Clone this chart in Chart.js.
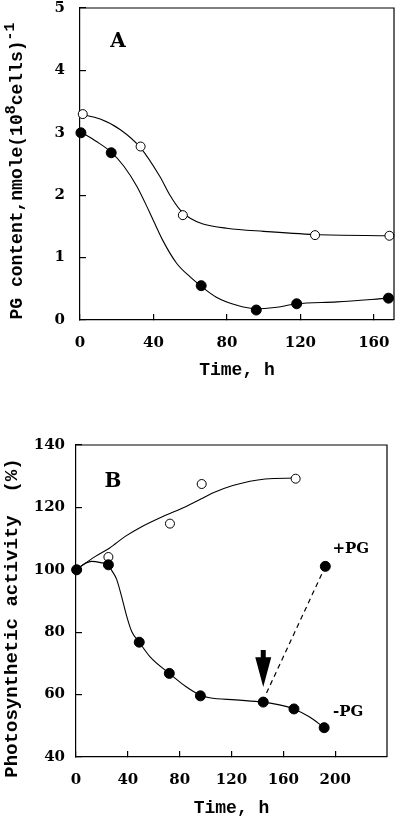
<!DOCTYPE html>
<html>
<head>
<meta charset="utf-8">
<script src="https://cdn.jsdelivr.net/npm/chart.js@4.4.1/dist/chart.umd.min.js"></script>
<style>
  body { margin: 0; background: #fff; }
  canvas { display: block; }
</style>
</head>
<body>
<canvas id="graphA" width="400" height="410"></canvas>
<canvas id="graphB" width="400" height="410"></canvas>
<script>
// ---- Panel A: PG content ----
var timeOpenA = [1.5, 33, 56, 128, 168.5];
var pgOpenA = [3.30, 2.78, 1.68, 1.36, 1.35];
var timeFilledA = [0.5, 17, 66, 96, 118, 168];
var pgFilledA = [3.00, 2.68, 0.55, 0.16, 0.26, 0.35];
// fitted curves
var fitTimeOpenA = [0, 11, 22, 33, 43.5, 49, 54.4, 60, 67, 80, 100, 128, 169];
var fitOpenA = [3.30, 3.22, 3.05, 2.76, 2.30, 2.00, 1.77, 1.63, 1.54, 1.47, 1.42, 1.37, 1.35];
var fitTimeFilledA = [0, 9, 17, 24, 31, 38, 45, 52.6, 60, 66, 74, 85, 96, 106, 118, 140, 168];
var fitFilledA = [3.02, 2.86, 2.69, 2.46, 2.14, 1.72, 1.28, 0.91, 0.69, 0.54, 0.37, 0.24, 0.18, 0.20, 0.26, 0.29, 0.35];
var xTicksA = [0, 40, 80, 120, 160];
var yTicksA = [0, 1, 2, 3, 4, 5];

// ---- Panel B: photosynthetic activity ----
var timeOpenB = [0.5, 25, 72.5, 97, 169.5];
var actOpenB = [100, 104.1, 114.8, 127.5, 129.2];
var timeFilledB = [0.5, 25, 48.8, 72, 96, 144.5, 168.2, 191.5];
var actFilledB = [100, 101.6, 76.8, 66.8, 59.6, 57.6, 55.4, 49.4];
var timePlusPG = [147, 192.4];
var actPlusPG = [60.5, 101.1];
var fitTimeOpenB = [0, 15, 26, 38, 51, 67, 85, 98, 105, 121, 146, 169];
var fitOpenB = [100, 104.3, 107, 110.7, 113.9, 117.1, 120.3, 123, 124.5, 127, 129.1, 129.4];
var fitTimeFilledB = [0, 6, 12, 19, 24.5, 28, 31.3, 35.2, 39, 43, 48.8, 57, 72, 85, 96, 103, 123, 144.5, 157, 168, 180, 191.5];
var fitFilledB = [100, 101.8, 102.7, 102.3, 101.6, 99.5, 97.0, 91.4, 85.3, 80.2, 76.8, 72.2, 66.8, 62.5, 59.8, 59, 58.3, 57.6, 56.7, 55.4, 52.9, 49.4];
var xTicksB = [0, 40, 80, 120, 160, 200];
var yTicksB = [40, 60, 80, 100, 120, 140];
var arrowTime = 144.5, arrowFrom = 74.3, arrowHead = 72, arrowTo = 62.4;

var tickFont = { family: '"DejaVu Serif"', size: 15, weight: 'bold' };
var titleFont = { family: '"Liberation Mono"', size: 18, weight: 'bold' };

function pts(xs, ys) {
    return xs.map(function(x, i) { return { x: x, y: ys[i] }; });
}

function markers(xs, ys, filled) {
    return {
        data: pts(xs, ys),
        showLine: false,
        pointRadius: filled ? 5 : 4.5,
        pointBorderWidth: 1,
        pointBorderColor: '#000',
        pointBackgroundColor: filled ? '#000' : '#fff',
        clip: false
    };
}

function curve(xs, ys) {
    return {
        data: pts(xs, ys),
        showLine: true,
        borderColor: '#000',
        borderWidth: 1.1,
        pointRadius: 0,
        cubicInterpolationMode: 'monotone',
        clip: false
    };
}

function axis(min, max, tickList, width, height, pad, title, titlePad) {
    return {
        type: 'linear',
        min: min,
        max: max,
        afterBuildTicks: function(scale) {
            scale.ticks = tickList.map(function(v) { return { value: v }; });
        },
        afterFit: function(scale) {
            if (width) scale.width = width;
            if (height) scale.height = height;
            // keep the plot box where the layout padding puts it
            scale.paddingTop = 0;
            scale.paddingBottom = 0;
            scale.paddingLeft = 0;
            scale.paddingRight = 0;
        },
        grid: { drawOnChartArea: false, tickLength: -6, color: '#000', lineWidth: 1.2 },
        border: { color: '#000', width: 1.2 },
        ticks: { color: '#000', font: tickFont, padding: pad, maxRotation: 0 },
        title: title ? { display: true, text: title, color: '#000', font: titleFont, padding: { top: 0, bottom: titlePad } } : { display: false }
    };
}

function drawVertical(ctx, parts, x, y) {
    ctx.save();
    ctx.translate(x, y);
    ctx.rotate(-Math.PI / 2);
    ctx.textAlign = 'left';
    ctx.textBaseline = 'alphabetic';
    ctx.fillStyle = '#000';
    var total = 0;
    parts.forEach(function(p) {
        ctx.font = 'bold ' + p.size + 'px "Liberation Mono"';
        total += ctx.measureText(p.text).width;
    });
    var pos = -total / 2;
    parts.forEach(function(p) {
        ctx.font = 'bold ' + p.size + 'px "Liberation Mono"';
        ctx.fillText(p.text, pos, -(p.rise || 0));
        pos += ctx.measureText(p.text).width;
    });
    ctx.restore();
}

// box, panel letter, y title and notes
var decor = {
    id: 'decor',
    afterDraw: function(chart, args, opts) {
        var ctx = chart.ctx, a = chart.chartArea;
        var xs = chart.scales.x, ys = chart.scales.y;
        ctx.save();
        ctx.strokeStyle = '#000';
        ctx.lineWidth = 1.2;
        ctx.beginPath();
        ctx.moveTo(a.left, a.top);
        ctx.lineTo(a.right, a.top);
        ctx.lineTo(a.right, a.bottom);
        ctx.stroke();

        ctx.fillStyle = '#000';
        ctx.font = 'bold 20px "DejaVu Serif"';
        ctx.textAlign = 'center';
        ctx.textBaseline = 'middle';
        ctx.fillText(opts.letter, opts.letterX, opts.letterY);

        drawVertical(ctx, opts.yTitle, opts.yTitleX, opts.yTitleY);

        if (opts.notes) {
            ctx.font = 'bold 15px "DejaVu Serif"';
            opts.notes.forEach(function(n) {
                ctx.fillText(n.text, xs.getPixelForValue(n.x), ys.getPixelForValue(n.y));
            });
        }
        if (opts.arrow) {
            var ax = xs.getPixelForValue(opts.arrow.x);
            var y0 = ys.getPixelForValue(opts.arrow.from);
            var y1 = ys.getPixelForValue(opts.arrow.head);
            var y2 = ys.getPixelForValue(opts.arrow.to);
            ctx.beginPath();
            ctx.moveTo(ax - 2.5, y0);
            ctx.lineTo(ax + 2.5, y0);
            ctx.lineTo(ax + 2.5, y1);
            ctx.lineTo(ax + 8, y1);
            ctx.lineTo(ax, y2);
            ctx.lineTo(ax - 8, y1);
            ctx.lineTo(ax - 2.5, y1);
            ctx.closePath();
            ctx.fill();
        }
        ctx.restore();
    }
};

var ctxA = document.getElementById('graphA').getContext('2d');
var graphA = new Chart(ctxA, {
    type: 'scatter',
    data: {
        datasets: [
            markers(timeFilledA, pgFilledA, true),
            markers(timeOpenA, pgOpenA, false),
            curve(fitTimeOpenA, fitOpenA),
            curve(fitTimeFilledA, fitFilledA)
        ]
    },
    options: {
        responsive: false,
        animation: false,
        events: [],
        layout: { padding: { top: 8, right: 6, bottom: 0, left: 0 } },
        scales: {
            x: axis(0, 171, xTicksA, 0, 90, 20, 'Time, h', 29),
            y: axis(0, 5, yTicksA, 80, 0, 21, null, 0)
        },
        plugins: {
            legend: { display: false },
            tooltip: { enabled: false },
            decor: {
                letter: 'A', letterX: 118, letterY: 42,
                yTitleX: 22, yTitleY: 171,
                yTitle: [
                    { text: 'PG content,nmole(10', size: 18 },
                    { text: '8', size: 15, rise: 7 },
                    { text: 'cells)', size: 18 },
                    { text: '-1', size: 15, rise: 8 }
                ]
            }
        }
    },
    plugins: [decor]
});

var ctxB = document.getElementById('graphB').getContext('2d');
var graphB = new Chart(ctxB, {
    type: 'scatter',
    data: {
        datasets: [
            markers(timeFilledB, actFilledB, true),
            markers([timePlusPG[1]], [actPlusPG[1]], true),
            markers(timeOpenB, actOpenB, false),
            {
                data: pts(timePlusPG, actPlusPG),
                showLine: true,
                borderColor: '#000',
                borderWidth: 1.2,
                borderDash: [5, 4],
                pointRadius: 0,
                clip: false
            },
            curve(fitTimeOpenB, fitOpenB),
            curve(fitTimeFilledB, fitFilledB)
        ]
    },
    options: {
        responsive: false,
        animation: false,
        events: [],
        layout: { padding: { top: 35, right: 13, bottom: 0, left: 0 } },
        scales: {
            x: axis(0, 240, xTicksB, 0, 63, 20, 'Time, h', 1),
            y: axis(40, 140, yTicksB, 76, 0, 17, null, 0)
        },
        plugins: {
            legend: { display: false },
            tooltip: { enabled: false },
            decor: {
                letter: 'B', letterX: 113, letterY: 72,
                yTitleX: 17, yTitleY: 208,
                yTitle: [ { text: 'Photosynthetic activity  (%)', size: 19 } ],
                notes: [
                    { text: '+PG', x: 212, y: 106.7 },
                    { text: '-PG', x: 210, y: 54.4 }
                ],
                arrow: { x: arrowTime, from: arrowFrom, head: arrowHead, to: arrowTo }
            }
        }
    },
    plugins: [decor]
});
</script>
</body>
</html>
